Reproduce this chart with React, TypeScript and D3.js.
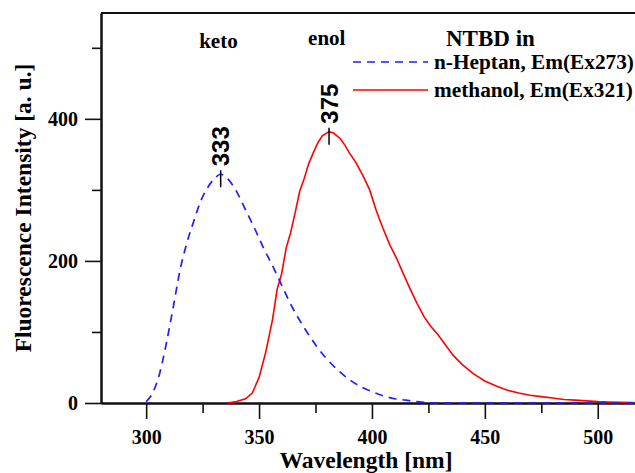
import React, { useEffect, useRef } from "react";
import * as d3 from "d3";

const width = 635;
const height = 473;
const margin = { top: 13, left: 101, bottom: 70, right: 0 };
const iwidth = width - margin.left - margin.right;
const iheight = height - margin.top - margin.bottom;

// axis ticks
const xMajor = [300, 350, 400, 450, 500];
const xMinor = [325, 375, 425, 475];
const yMajor = [0, 200, 400];
const yMinor = [100, 300, 500];

// n-Heptan, Em(Ex273) - keto band
const heptanNm = [300, 303, 306, 309, 312, 315, 318, 321, 324, 327, 330, 333, 336, 340, 344, 348, 352, 356, 360, 365, 370, 375, 380, 385, 390, 395, 400, 405, 410, 415, 420, 425, 430, 450, 475, 500, 516];
const heptanI = [2, 15, 42, 85, 135, 187, 225, 255, 283, 302, 315, 322, 316, 298, 272, 246, 218, 193, 166, 133, 106, 82, 62, 46, 33, 23, 16, 10, 6, 4, 2, 0.5, 0, 0, 0, 0, 0];

// methanol, Em(Ex321) - enol band
const methNm = [336, 340, 344, 347, 350, 353, 356, 358, 360, 362, 364, 366, 368, 370, 372, 374, 376, 378, 381, 383, 386, 388, 390, 393, 396, 399, 402, 405, 408, 411, 414, 417, 420, 423, 426, 429, 432, 436, 440, 445, 450, 455, 460, 465, 470, 475, 480, 485, 490, 495, 500, 505, 510, 516];
const methI = [0, 2, 6, 14, 36, 72, 118, 160, 182, 218, 240, 268, 298, 316, 337, 352, 366, 376, 382, 380, 372, 363, 352, 338, 320, 300, 270, 245, 222, 203, 181, 160, 140, 122, 108, 97, 84, 67, 54, 41, 31, 24, 18, 14, 11, 9, 7, 5, 4, 3, 2, 1.5, 1, 0.5];

// peak marks: position (nm, intensity) and printed label
const peakNm = [333, 381];
const peakI = [322, 382];
const peakText = ["333", "375"];

// band names above the peaks
const bandNames = ["keto", "enol"];
const bandNm = [332, 380];
const bandI = [500, 504];

const legendTitle = "NTBD in";
const seriesNames = ["n-Heptan, Em(Ex273)", "methanol, Em(Ex321)"];
const seriesColors = ["#1f1fff", "#ff0000"];

const serif = "'Liberation Serif', 'Times New Roman', serif";
const sans = "'Liberation Sans', Arial, sans-serif";

export default function App() {
  const ref = useRef<SVGSVGElement>(null);

  useEffect(() => {
    const svg = d3.select(ref.current);
    svg.selectAll("*").remove();

    const g = svg
      .append("g")
      .attr("transform", `translate(${margin.left},${margin.top})`);

    const x = d3.scaleLinear().domain([280, 516.5]).range([0, iwidth]);
    const y = d3.scaleLinear().domain([0, 549]).range([iheight, 0]);

    const styleAxis = (sel: any) => {
      sel.selectAll("path").attr("stroke", "#111").attr("stroke-width", 2);
      sel.selectAll("line").attr("stroke", "#111").attr("stroke-width", 1.6);
      sel
        .selectAll("text")
        .attr("font-family", serif)
        .attr("font-weight", "bold")
        .attr("font-size", 20)
        .attr("fill", "#000");
    };

    // minor ticks first
    g.append("g")
      .attr("transform", `translate(0,${iheight})`)
      .call(d3.axisBottom(x).tickValues(xMinor).tickSize(10).tickSizeOuter(0).tickFormat(() => ""))
      .call(styleAxis);
    g.append("g")
      .call(d3.axisLeft(y).tickValues(yMinor).tickSize(9).tickSizeOuter(0).tickFormat(() => ""))
      .call(styleAxis);

    g.append("g")
      .attr("transform", `translate(0,${iheight})`)
      .call(d3.axisBottom(x).tickValues(xMajor).tickSize(16).tickPadding(11).tickSizeOuter(0))
      .call(styleAxis);
    g.append("g")
      .call(d3.axisLeft(y).tickValues(yMajor).tickSize(16).tickPadding(7).tickSizeOuter(0))
      .call(styleAxis);

    // top frame
    g.append("line")
      .attr("x1", 0)
      .attr("x2", iwidth)
      .attr("y1", 0)
      .attr("y2", 0)
      .attr("stroke", "#111")
      .attr("stroke-width", 2);

    const heptan = heptanNm.map((d, i) => [d, heptanI[i]] as [number, number]);
    const meth = methNm.map((d, i) => [d, methI[i]] as [number, number]);

    const line = d3
      .line<[number, number]>()
      .x((d) => x(d[0]))
      .y((d) => y(d[1]));

    g.append("path")
      .datum(meth)
      .attr("fill", "none")
      .attr("stroke", seriesColors[1])
      .attr("stroke-width", 1.6)
      .attr("d", line);

    g.append("path")
      .datum(heptan)
      .attr("fill", "none")
      .attr("stroke", seriesColors[0])
      .attr("stroke-width", 1.7)
      .attr("stroke-dasharray", "8,6")
      .attr("d", line.curve(d3.curveMonotoneX));

    // peak marks
    peakNm.forEach((nm, i) => {
      const px = x(nm);
      const py = y(peakI[i]);
      g.append("line")
        .attr("x1", px)
        .attr("x2", px)
        .attr("y1", py - 4)
        .attr("y2", py + 13)
        .attr("stroke", "#000")
        .attr("stroke-width", 1.5);
      g.append("text")
        .attr("transform", `translate(${px},${py - 8}) rotate(-90)`)
        .attr("dy", "0.36em")
        .attr("font-family", sans)
        .attr("font-weight", "bold")
        .attr("font-size", 24)
        .text(peakText[i]);
    });

    bandNames.forEach((name, i) => {
      g.append("text")
        .attr("x", x(bandNm[i]))
        .attr("y", y(bandI[i]))
        .attr("text-anchor", "middle")
        .attr("font-family", serif)
        .attr("font-weight", "bold")
        .attr("font-size", 21)
        .text(name);
    });

    // legend
    const lg = svg.append("g");
    lg.append("text")
      .attr("x", 446)
      .attr("y", 45.5)
      .attr("font-family", serif)
      .attr("font-weight", "bold")
      .attr("font-size", 23)
      .text(legendTitle);
    seriesNames.forEach((name, i) => {
      const ly = 62 + i * 28;
      lg.append("line")
        .attr("x1", 353)
        .attr("x2", 428)
        .attr("y1", ly)
        .attr("y2", ly)
        .attr("stroke", seriesColors[i])
        .attr("stroke-width", 1.7)
        .attr("stroke-dasharray", i === 0 ? "8,6" : null);
      lg.append("text")
        .attr("x", 434)
        .attr("y", ly + 7)
        .attr("font-family", serif)
        .attr("font-weight", "bold")
        .attr("font-size", 21.3)
        .text(name);
    });

    // axis titles
    svg
      .append("text")
      .attr("x", 366)
      .attr("y", 468)
      .attr("text-anchor", "middle")
      .attr("font-family", serif)
      .attr("font-weight", "bold")
      .attr("font-size", 23.5)
      .text("Wavelength [nm]");

    svg
      .append("text")
      .attr("transform", "translate(31,208) rotate(-90)")
      .attr("text-anchor", "middle")
      .attr("font-family", serif)
      .attr("font-weight", "bold")
      .attr("font-size", 23.5)
      .text("Fluorescence Intensity [a. u.]");
  }, []);

  return (
    <svg
      ref={ref}
      width={width}
      height={height}
      style={{ position: "absolute", left: 0, top: 0, background: "#fff" }}
    />
  );
}
